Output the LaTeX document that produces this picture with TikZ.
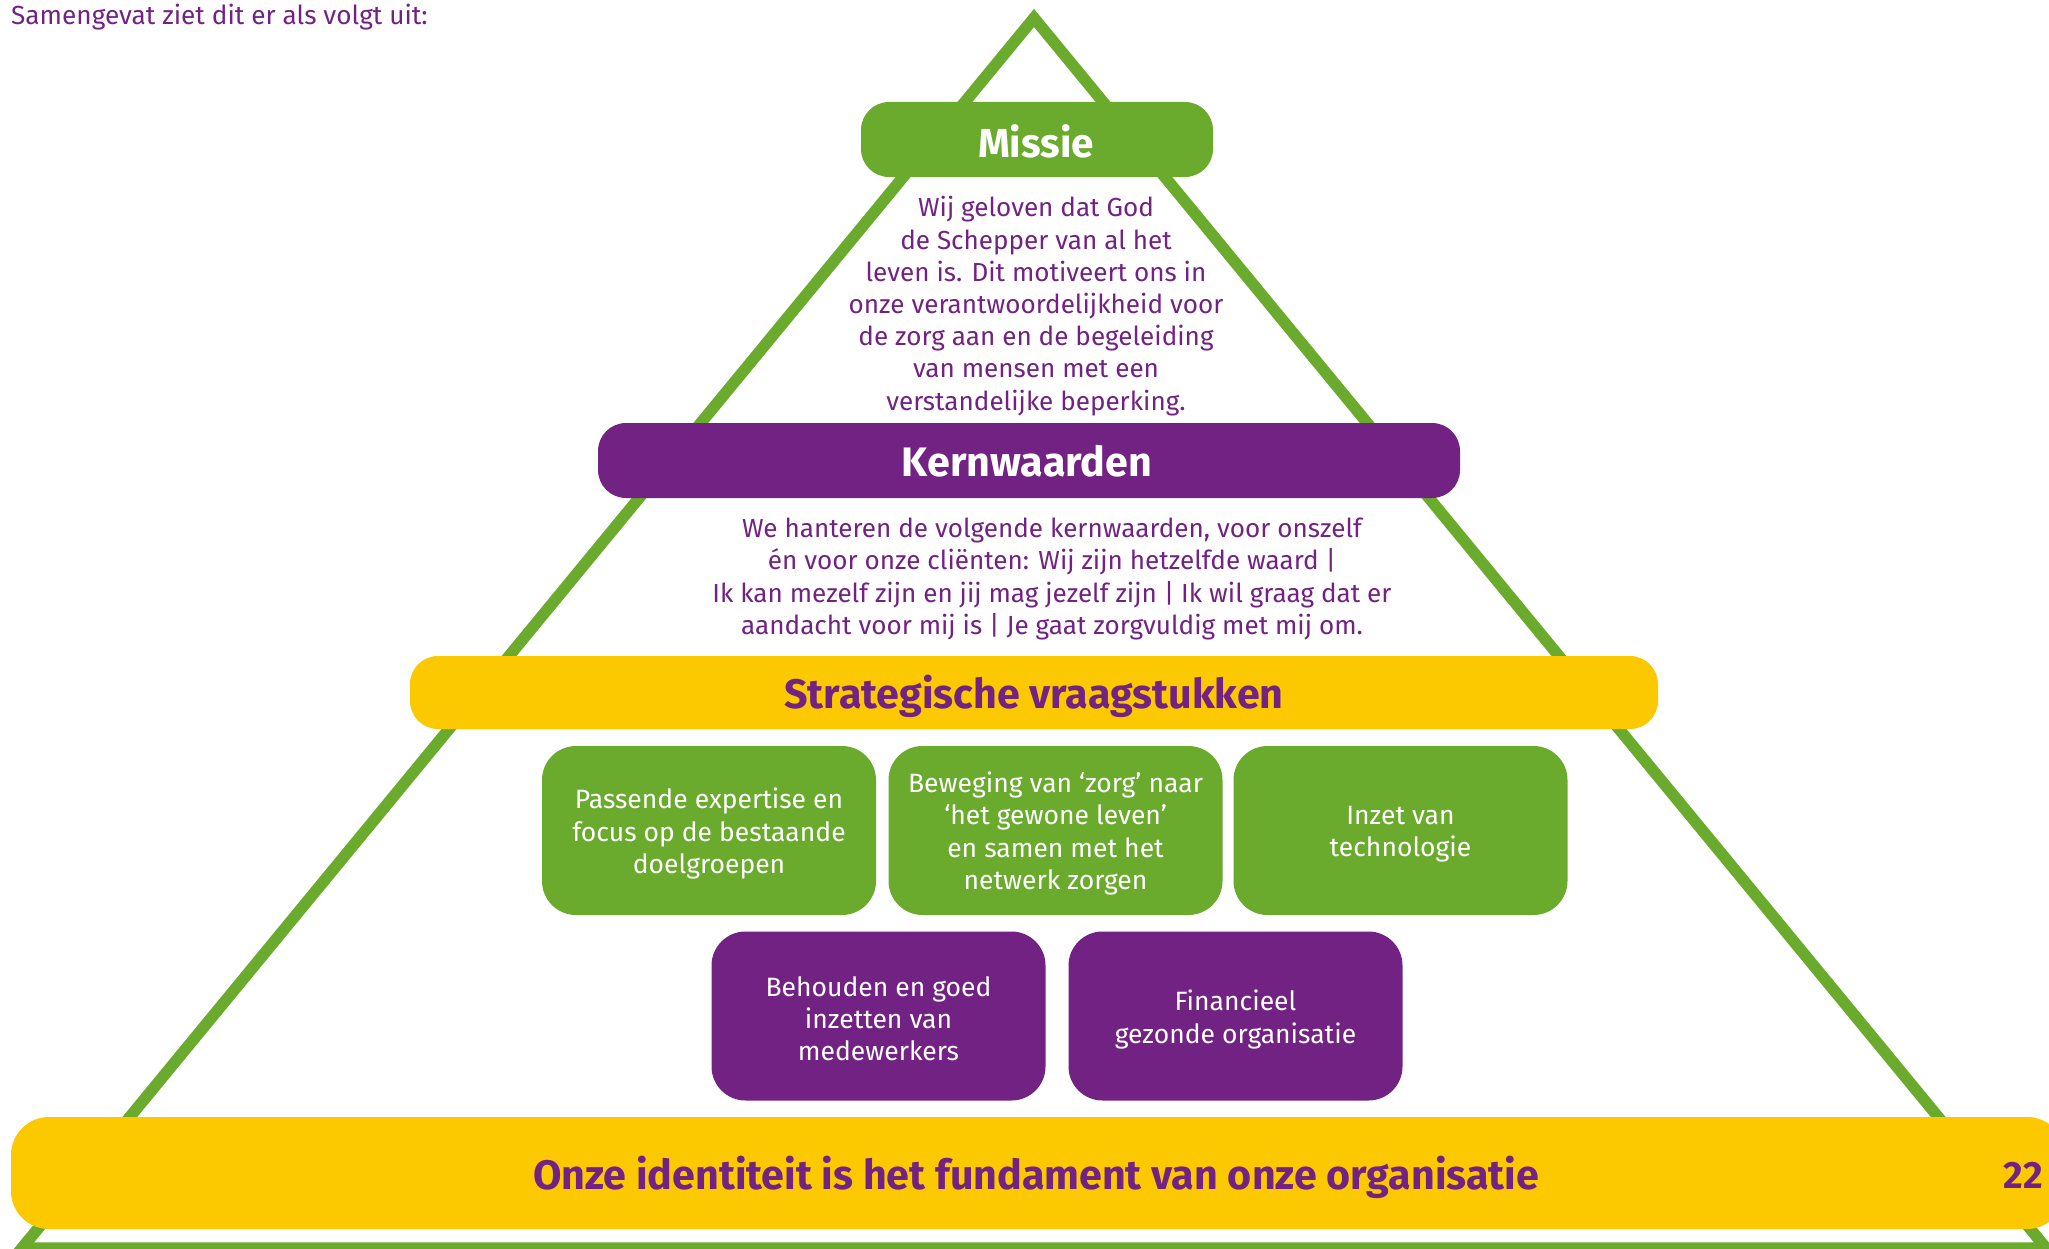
\documentclass[tikz,border=0pt]{standalone}
\usepackage{fontspec}
\setmainfont{Fira Sans}
\definecolor{pgreen}{HTML}{6AAA2D}
\definecolor{ppurple}{HTML}{722282}
\definecolor{pyellow}{HTML}{FCC800}
\begin{document}
\begin{tikzpicture}[x=1pt,y=-1pt,
  bar/.style={rounded corners=28pt, minimum height=75pt, inner sep=0pt},
  head/.style={inner sep=0pt, font=\fontsize{41.2}{46}\selectfont\bfseries},
  body/.style={text=ppurple, align=center, inner sep=0pt, font=\fontsize{26.1}{32.2}\selectfont},
  tile/.style={rounded corners=34pt, minimum width=334pt, minimum height=169pt, inner sep=0pt},
  tiletext/.style={text=white, align=center, inner sep=0pt, font=\fontsize{26.5}{32.2}\selectfont}]
\useasboundingbox (0,0) rectangle (2049,1249);
\fill[white] (0,0) rectangle (2049,1249);

% pyramid outline
\draw[pgreen, line width=11.5pt, line join=miter] (1034,18) -- (2046,1248) -- (22,1248) -- cycle;

\node[anchor=base west, text=ppurple, inner sep=0pt, font=\fontsize{26.2}{32}\selectfont] (intro) at (11,25) {Samengevat ziet dit er als volgt uit:};

% mission
\node[bar, fill=pgreen, minimum width=352pt] (missie) at (1037,139.5) {};
\node[head, text=white, font=\fontsize{40.5}{46}\selectfont\bfseries] (missiehead) at (1036,141) {Missie};
\node[body] (missietxt) at (1036,306) {Wij geloven dat God\\de Schepper van al het\\leven is. Dit motiveert ons in\\onze verantwoordelijkheid voor\\de zorg aan en de begeleiding\\van mensen met een\\verstandelijke beperking.};

% core values
\node[bar, fill=ppurple, minimum width=862pt] (kern) at (1029,460.5) {};
\node[head, text=white] (kernhead) at (1027,461.5) {Kernwaarden};
\node[body] (kerntxt) at (1052,579) {We hanteren de volgende kernwaarden, voor onszelf\\én voor onze cliënten: Wij zijn hetzelfde waard |\\Ik kan mezelf zijn en jij mag jezelf zijn | Ik wil graag dat er\\aandacht voor mij is | Je gaat zorgvuldig met mij om.};

% strategic questions
\node[bar, fill=pyellow, minimum width=1248pt, minimum height=73pt] (strat) at (1034,692.5) {};
\node[head, text=ppurple] (strathead) at (1034,696.5) {Strategische vraagstukken};

\node[tile, fill=pgreen] (t1) at (709,830.5) {};
\node[tile, fill=pgreen] (t2) at (1055.5,830.5) {};
\node[tile, fill=pgreen] (t3) at (1400.5,830.5) {};
\node[tile, fill=ppurple] (t4) at (878.5,1016) {};
\node[tile, fill=ppurple] (t5) at (1235.5,1016) {};
\node[tiletext] (t1txt) at ([yshift=-3pt]t1.center) {Passende expertise en\\focus op de bestaande\\doelgroepen};
\node[tiletext] (t2txt) at ([yshift=-3pt]t2.center) {Beweging van ‘zorg’ naar\\‘het gewone leven’\\en samen met het\\netwerk zorgen};
\node[tiletext] (t3txt) at ([yshift=-3.5pt]t3.center) {Inzet van\\technologie};
\node[tiletext] (t4txt) at ([yshift=-3pt]t4.center) {Behouden en goed\\inzetten van\\medewerkers};
\node[tiletext] (t5txt) at ([yshift=-3.5pt]t5.center) {Financieel\\gezonde organisatie};

% foundation
\node[bar, fill=pyellow, rounded corners=38pt, minimum width=2054pt, minimum height=112pt] (fund) at (1038,1173) {};
\node[head, text=ppurple] (fundtxt) at (1036,1177.5) {Onze identiteit is het fundament van onze organisatie};
\node[text=ppurple, inner sep=0pt, font=\fontsize{38}{44}\selectfont\bfseries] (page) at (2023,1175) {22};
\end{tikzpicture}
\end{document}
